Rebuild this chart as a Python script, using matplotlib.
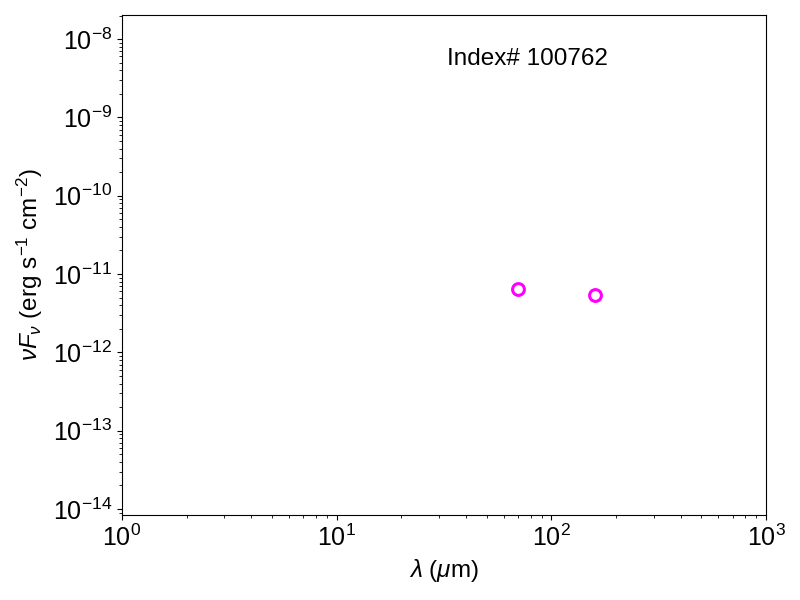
import matplotlib
matplotlib.use("Agg")
import matplotlib.pyplot as plt

wavelength = [70, 160]
nufnu = [6.4e-12, 5.4e-12]
label = "Index# 100762"

plt.rcParams['font.family'] = ['Liberation Sans', 'DejaVu Sans']
plt.rcParams['mathtext.fontset'] = 'custom'
plt.rcParams['mathtext.rm'] = 'Liberation Sans'
plt.rcParams['mathtext.it'] = 'Liberation Sans:italic'

fig = plt.figure(figsize=(8, 6), dpi=100)
ax = fig.add_axes([0.1525, 0.1417, 0.805, 0.8333])
ax.plot(wavelength, nufnu, 'o', mfc='none', mec='magenta', ms=8.5, mew=2.2)
ax.set_xscale('log')
ax.set_yscale('log')
ax.set_xlim(1, 1000)
ax.set_ylim(8.4e-15, 2.03e-8)
ax.set_xlabel(r'$\lambda$ ($\mu$m)', fontsize=17.5)
ax.set_ylabel(r'$\nu F_\nu$ (erg s$^{-1}$ cm$^{-2}$)', fontsize=17.5, labelpad=6)
ax.tick_params(labelsize=18)
ax.text(0.629, 0.912, label, transform=ax.transAxes, ha='center', va='center', fontsize=17.5)
fig.savefig('out.png', dpi=100)
